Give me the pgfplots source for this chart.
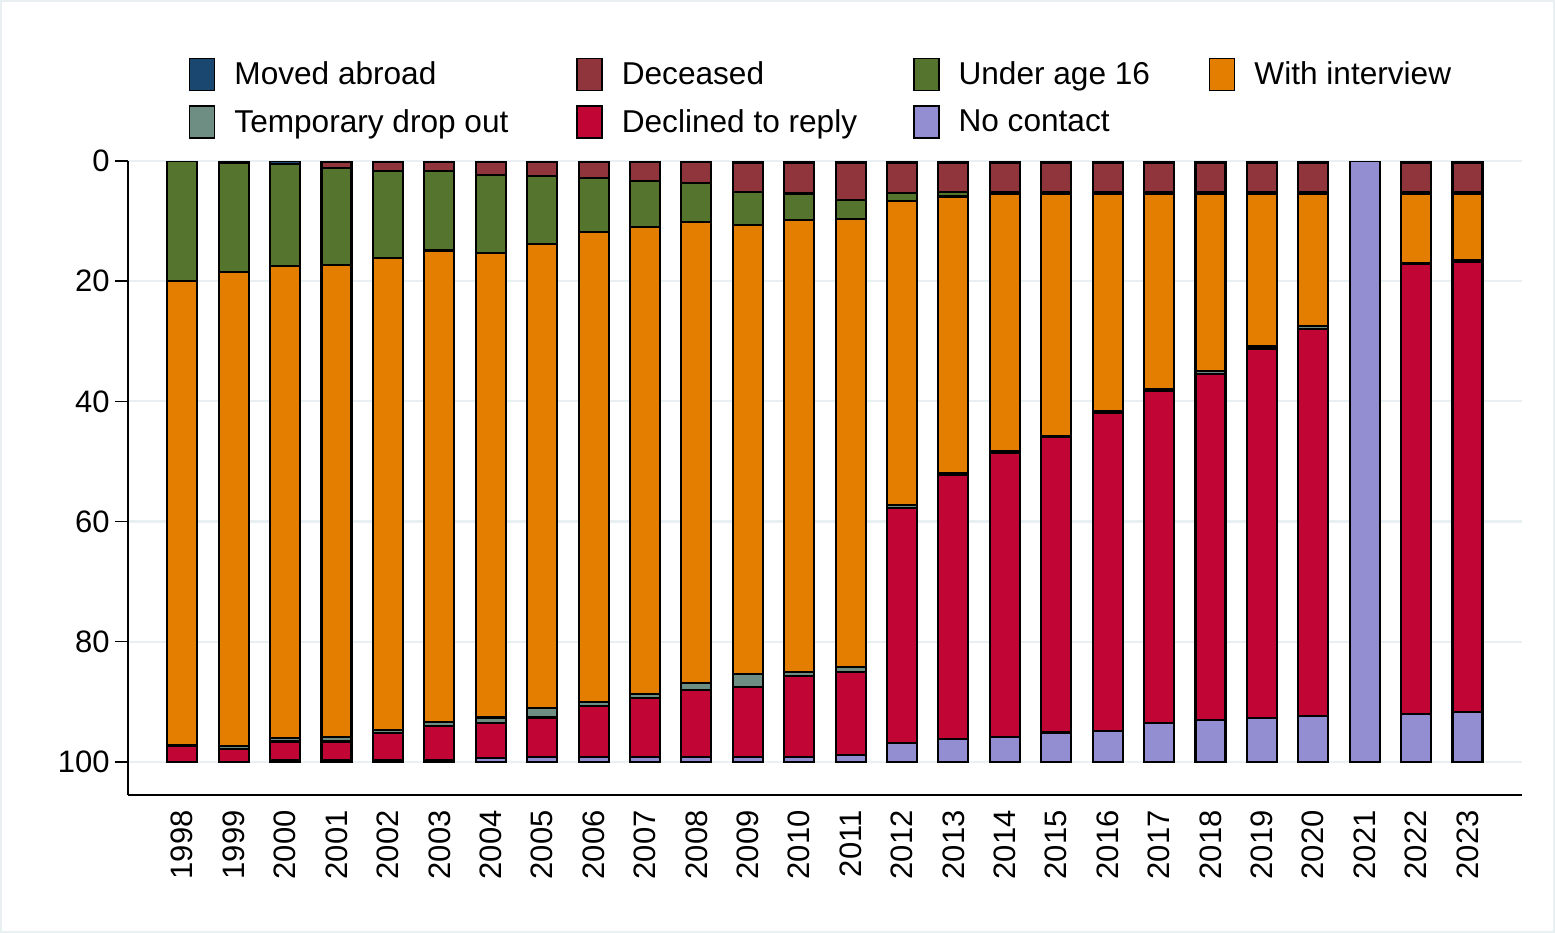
\documentclass[border=0pt]{standalone}
\usepackage{pgfplots}
\pgfplotsset{compat=1.18}
\usepackage{pgfplotstable}
\usepackage{fontspec}
\setmainfont{Liberation Sans}
\definecolor{cMA}{RGB}{26,71,111}
\definecolor{cDE}{RGB}{144,53,59}
\definecolor{cU}{RGB}{85,117,47}
\definecolor{cIN}{RGB}{227,126,0}
\definecolor{cTD}{RGB}{110,142,132}
\definecolor{cDR}{RGB}{193,5,52}
\definecolor{cNC}{RGB}{147,141,210}
\definecolor{gridc}{RGB}{232,240,243}
\definecolor{framec}{RGB}{232,240,242}

\pgfplotstableread{
x year ma dec u16 int tdo dr nc
0 1998 0.0 0.0 20.0 77.2 0.2 2.6 0.0
1 1999 0.3 0.0 18.1 78.9 0.5 2.2 0.0
2 2000 0.5 0.0 16.9 78.6 0.6 3.1 0.3
3 2001 0.1 1.1 16.1 78.5 0.8 3.1 0.3
4 2002 0.1 1.5 14.6 78.5 0.5 4.4 0.4
5 2003 0.1 1.5 13.3 78.5 0.6 5.6 0.4
6 2004 0.1 2.3 12.9 77.3 0.9 5.8 0.7
7 2005 0.2 2.3 11.3 77.2 1.6 6.6 0.8
8 2006 0.2 2.7 8.9 78.2 0.7 8.4 0.9
9 2007 0.2 3.1 7.7 77.7 0.6 9.8 0.9
10 2008 0.2 3.4 6.6 76.6 1.2 11.1 0.9
11 2009 0.3 4.9 5.4 74.8 2.1 11.6 0.9
12 2010 0.3 5.1 4.4 75.2 0.7 13.4 0.9
13 2011 0.3 6.2 3.2 74.5 0.8 13.8 1.2
14 2012 0.4 4.9 1.3 50.6 0.5 39.2 3.1
15 2013 0.4 4.7 0.8 46.0 0.4 43.9 3.8
16 2014 0.4 4.8 0.3 42.8 0.3 47.2 4.2
17 2015 0.4 4.8 0.2 40.4 0.2 49.1 4.9
18 2016 0.4 4.8 0.2 36.2 0.4 52.8 5.2
19 2017 0.4 4.8 0.2 32.5 0.4 55.2 6.5
20 2018 0.4 4.8 0.2 29.6 0.5 57.5 7.0
21 2019 0.4 4.8 0.2 25.4 0.4 61.5 7.3
22 2020 0.4 4.8 0.2 22.0 0.5 64.5 7.6
23 2021 0.0 0.0 0.0 0.0 0.0 0.0 100.0
24 2022 0.4 4.8 0.2 11.5 0.3 74.8 8.0
25 2023 0.4 4.8 0.2 11.1 0.3 74.9 8.3
}\data

\begin{document}
\begin{tikzpicture}
\fill[framec] (-64pt,-69pt) rectangle (713.5pt,397.5pt);
\fill[white] (-62.75pt,-67.75pt) rectangle (712.25pt,396.25pt);
\begin{axis}[
  at={(0,0)}, anchor=south west,
  scale only axis, width=696.85pt, height=317pt,
  ybar stacked, bar width=0.584,
  xmin=-1.056, xmax=26.054,
  ymin=0, ymax=105.5, y dir=reverse,
  enlargelimits=false,
  axis x line*=bottom, axis y line*=left,
  axis line style={line width=0.7pt, black},
  ytick={0,20,40,60,80,100},
  yticklabels={0,20,40,60,80,100},
  ymajorgrids,
  major grid style={gridc, line width=1.1pt},
  tick align=outside,
  major tick length=6.5pt,
  ytick style={black, line width=0.7pt},
  xtick={0,...,25},
  xticklabels={1998,1999,2000,2001,2002,2003,2004,2005,2006,2007,2008,2009,2010,2011,2012,2013,2014,2015,2016,2017,2018,2019,2020,2021,2022,2023},
  xtick style={draw=none},
  tick label style={font=\fontsize{15.5}{18}\selectfont},
  xticklabel style={rotate=90, anchor=east, inner sep=0pt, xshift=-1pt},
  yticklabel style={inner sep=0pt, xshift=-2.5pt},
  legend columns=4,
  legend cell align=left,
  legend image code/.code={\draw[#1, line width=0.7pt] (0pt,-8pt) rectangle (12.5pt,8pt);},
  legend style={at={(rel axis cs:0.0438,1.1625)}, anchor=north west,
    draw=none, fill=none, inner sep=0pt, outer sep=0pt,
    font=\fontsize{15.8}{18}\selectfont,
    row sep=7pt,
    nodes={inner sep=0pt},
    /tikz/every odd column/.append style={column sep=9.5pt},
    /tikz/every even column/.append style={column sep=28pt}},
]
\addplot[fill=cMA, draw=black, line width=1.05pt] table[x=x,y=ma]{\data};
\addlegendentry{Moved abroad}
\addplot[fill=cDE, draw=black, line width=1.05pt] table[x=x,y=dec]{\data};
\addlegendentry{Deceased}
\addplot[fill=cU, draw=black, line width=1.05pt] table[x=x,y=u16]{\data};
\addlegendentry{Under age 16\kern1.5pt}
\addplot[fill=cIN, draw=black, line width=1.05pt] table[x=x,y=int]{\data};
\addlegendentry{With interview}
\addplot[fill=cTD, draw=black, line width=1.05pt] table[x=x,y=tdo]{\data};
\addlegendentry{Temporary drop out\kern6pt}
\addplot[fill=cDR, draw=black, line width=1.05pt] table[x=x,y=dr]{\data};
\addlegendentry{Declined to reply}
\addplot[fill=cNC, draw=black, line width=1.05pt] table[x=x,y=nc]{\data};
\addlegendentry{No contact}
\end{axis}
\end{tikzpicture}
\end{document}
